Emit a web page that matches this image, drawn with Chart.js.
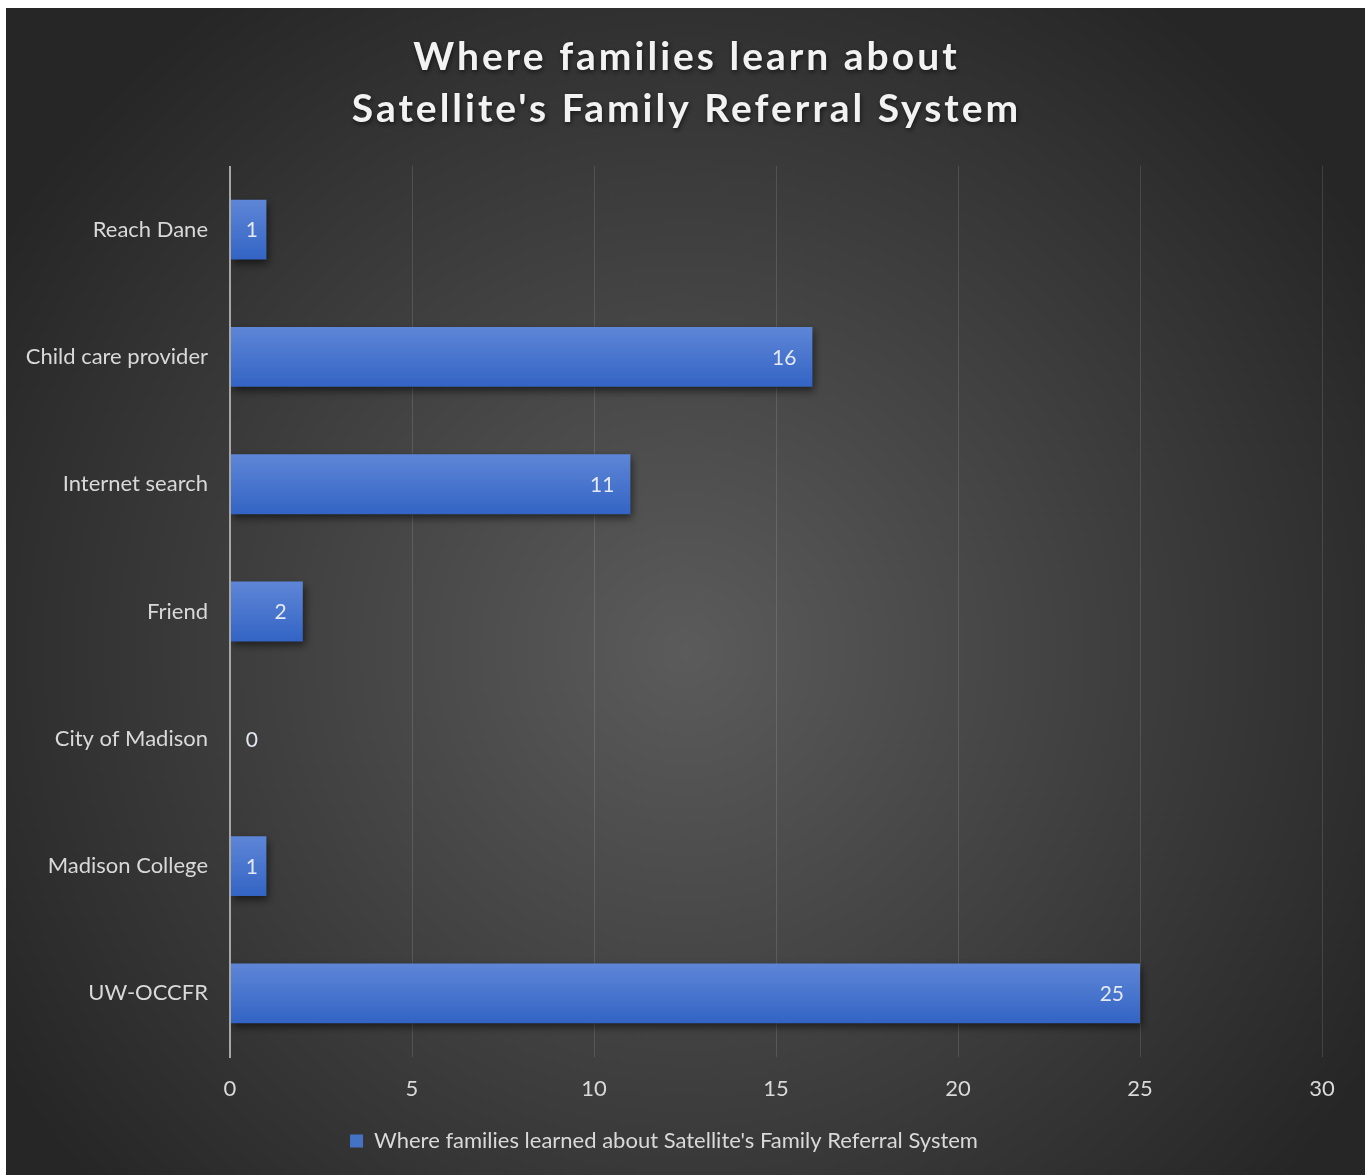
<!DOCTYPE html>
<html>
<head>
<meta charset="utf-8">
<script src="https://cdn.jsdelivr.net/npm/chart.js@4/dist/chart.umd.min.js"></script>
<style>
  html, body { margin: 0; padding: 0; background: #fff; }
  #wrap { position: absolute; left: 6px; top: 8px; width: 1359px; height: 1167px; }
</style>
</head>
<body>
<div id="wrap"><canvas id="chart"></canvas></div>
<script>
var categories = ['Reach Dane', 'Child care provider', 'Internet search', 'Friend', 'City of Madison', 'Madison College', 'UW-OCCFR'];
var values = [1, 16, 11, 2, 0, 1, 25];
var seriesLabel = "Where families learned about Satellite's Family Referral System";
var titleLines = ['Where families learn about', "Satellite's Family Referral System"];

var FONT = 'Lato, "Open Sans", sans-serif';

// dark radial background + title
var backdrop = {
    id: 'backdrop',
    beforeDraw: function (chart) {
        var c = chart.ctx, w = chart.width, h = chart.height;
        c.save();
        var g = c.createRadialGradient(w / 2, h / 2 + 60, 0, w / 2, h / 2 + 60, 800);
        g.addColorStop(0, '#5b5b5b');
        g.addColorStop(1, '#262626');
        c.fillStyle = g;
        c.fillRect(0, 0, w, h);

        c.font = 'bold 39px ' + FONT;
        c.letterSpacing = '3px';
        c.textAlign = 'center';
        c.textBaseline = 'middle';
        c.fillStyle = '#f2f2f2';
        c.shadowColor = 'rgba(0,0,0,0.6)';
        c.shadowBlur = 5;
        c.shadowOffsetX = 1;
        c.shadowOffsetY = 2;
        c.fillText(titleLines[0], w / 2 + 1, 49);
        c.fillText(titleLines[1], w / 2 + 1, 101);
        c.restore();
    }
};

// bar shadow
var barShadow = {
    id: 'barShadow',
    beforeDatasetDraw: function (chart) {
        var c = chart.ctx;
        c.save();
        c.shadowColor = 'rgba(0,0,0,0.55)';
        c.shadowBlur = 8;
        c.shadowOffsetX = 2;
        c.shadowOffsetY = 4;
    },
    afterDatasetDraw: function (chart) {
        chart.ctx.restore();
    }
};

// value labels, inside end
var valueLabels = {
    id: 'valueLabels',
    afterDatasetsDraw: function (chart) {
        var c = chart.ctx;
        var meta = chart.getDatasetMeta(0);
        var base = chart.scales.x.getPixelForValue(0);
        c.save();
        c.font = '21px ' + FONT;
        c.fillStyle = '#e4e8f2';
        c.textAlign = 'right';
        c.textBaseline = 'middle';
        meta.data.forEach(function (bar, i) {
            var x = Math.max(bar.x - 16, base + 28);
            c.fillText(String(values[i]), x, bar.y + 1);
        });
        c.restore();
    }
};

// axis line at zero drawn over the bars
var zeroLine = {
    id: 'zeroLine',
    afterDatasetsDraw: function (chart) {
        var c = chart.ctx, a = chart.chartArea;
        var x = chart.scales.x.getPixelForValue(0);
        c.save();
        c.strokeStyle = '#a6a6a6';
        c.lineWidth = 2;
        c.beginPath();
        c.moveTo(x, a.top);
        c.lineTo(x, a.bottom + 1);
        c.stroke();
        c.restore();
    }
};

function barFill(context) {
    var chart = context.chart;
    if (!chart.chartArea || !chart.scales.y) return '#4472c4';
    var y = chart.scales.y;
    var yc = y.getPixelForValue(context.dataIndex);
    var half = (y.height / categories.length) * 0.47 / 2;
    var g = chart.ctx.createLinearGradient(0, yc - half, 0, yc + half);
    g.addColorStop(0, '#5e86d7');
    g.addColorStop(1, '#3364c4');
    return g;
}

var ctx = document.getElementById('chart').getContext('2d');
var chart = new Chart(ctx, {
    type: 'bar',
    data: {
        labels: categories,
        datasets: [{
            label: seriesLabel,
            data: values,
            backgroundColor: barFill,
            borderWidth: 0,
            barPercentage: 0.47,
            categoryPercentage: 1
        }]
    },
    options: {
        indexAxis: 'y',
        responsive: true,
        maintainAspectRatio: false,
        animation: false,
        layout: { padding: { top: 158, right: 43, bottom: 13, left: 0 } },
        scales: {
            x: {
                min: 0,
                max: 30,
                ticks: { stepSize: 5, color: '#d9d9d9', font: { family: FONT, size: 22 }, padding: 19 },
                grid: { color: 'rgba(255,255,255,0.12)', lineWidth: 1, drawTicks: false },
                border: { display: false },
                afterFit: function (s) { s.height = 60; }
            },
            y: {
                ticks: { color: '#d9d9d9', font: { family: FONT, size: 22 }, padding: 22 },
                grid: { display: false, drawTicks: false },
                border: { display: false },
                afterFit: function (s) { s.width = 224; }
            }
        },
        plugins: {
            title: { display: false },
            tooltip: { enabled: false },
            legend: {
                position: 'bottom',
                labels: {
                    color: '#d9d9d9',
                    font: { family: FONT, size: 22 },
                    boxWidth: 13,
                    boxHeight: 13,
                    padding: 13,
                    generateLabels: function () {
                        return [{ text: seriesLabel, fillStyle: '#4472c4', strokeStyle: '#4472c4', lineWidth: 0, fontColor: '#d9d9d9', datasetIndex: 0 }];
                    }
                }
            }
        }
    },
    plugins: [backdrop, barShadow, valueLabels, zeroLine]
});
</script>
</body>
</html>
